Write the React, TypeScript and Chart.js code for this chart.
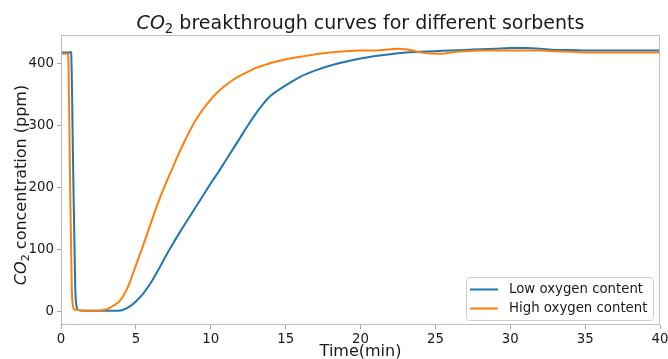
import React, { useEffect, useRef } from 'react';
import { Chart, registerables } from 'chart.js';

Chart.register(...registerables);

// ---- data ----
const lowTime = [0, 0.3, 0.6, 0.64, 0.68, 0.8, 0.95, 1.05, 1.15, 1.5, 2, 2.5, 3, 3.5, 3.8, 4.2, 4.6, 5.0, 5.5, 6.0, 6.5, 7.0, 7.5, 8.0, 8.5, 9.0, 9.5, 10, 10.5, 11, 11.5, 12, 12.5, 13, 13.5, 14, 14.5, 15, 15.5, 16, 17, 18, 19, 20, 21, 22, 23, 24, 25, 26, 27, 28, 29, 30, 31, 32, 33, 34, 35, 36, 37, 38, 39, 40];
const lowValues = [418, 418, 418, 419, 416, 250, 40, 8, 3, 2, 2, 2, 2, 2, 2, 4, 9, 17, 30, 47, 68, 90, 111, 131, 150, 169, 188, 207, 225, 244, 263, 282, 301, 319, 335, 348, 357, 365, 372, 379, 389, 397, 403, 408, 412, 415, 418, 419, 420, 421, 422, 423, 424, 425, 425, 424, 422, 422, 421, 421, 421, 421, 421, 421];

const highTime = [0, 0.3, 0.45, 0.5, 0.6, 0.72, 0.8, 0.9, 1.2, 1.5, 2, 2.5, 2.8, 3.1, 3.5, 4.0, 4.5, 5.0, 5.5, 6.0, 6.5, 7.0, 7.5, 8.0, 8.5, 9.0, 9.5, 10, 10.5, 11, 11.5, 12, 12.5, 13, 13.5, 14, 14.5, 15, 16, 17, 18, 19, 20, 21, 22, 22.5, 23, 23.5, 24, 25, 25.5, 26, 27, 28, 29, 30, 31, 32, 33, 34, 35, 36, 37, 38, 39, 40];
const highValues = [416, 416, 416, 400, 220, 40, 10, 4, 3, 2, 2, 2, 3, 5, 10, 20, 42, 75, 108, 143, 177, 207, 235, 262, 287, 309, 327, 342, 355, 365, 374, 381, 387, 393, 397, 401, 404, 407, 411, 415, 418, 420, 421, 421, 423, 424, 423, 421, 418, 416, 416, 418, 420, 421, 421, 421, 421, 421, 420, 419, 418, 418, 418, 418, 418, 418];

const seriesLabels = ['Low oxygen content', 'High oxygen content'];
const seriesColors = ['#1f77b4', '#ff7f0e'];
const xTicks = [0, 5, 10, 15, 20, 25, 30, 35, 40];
const yTicks = [0, 100, 200, 300, 400];
const xTitle = 'Time(min)';
const titleParts = [
  { text: 'CO', italic: true },
  { text: '2', sub: true },
  { text: ' breakthrough curves for different sorbents' },
];
const yTitleParts = [
  { text: 'CO', italic: true },
  { text: '2', sub: true },
  { text: ' concentration (ppm)' },
];

const FONT = '"DejaVu Sans", sans-serif';
const TEXT_COLOR = '#1a1a1a';
const SMALL = 13.3;

type Part = { text: string; italic?: boolean; sub?: boolean };

function drawRich(ctx: CanvasRenderingContext2D, parts: Part[], cx: number, baseline: number, size: number) {
  const fontFor = (p: Part) => {
    const s = p.sub ? size * 0.7 : size;
    return `${p.italic ? 'italic ' : ''}${s}px ${FONT}`;
  };
  let total = 0;
  const widths = parts.map((p) => {
    ctx.font = fontFor(p);
    const w = ctx.measureText(p.text).width;
    total += w;
    return w;
  });
  let x = cx - total / 2;
  ctx.textAlign = 'left';
  ctx.textBaseline = 'alphabetic';
  ctx.fillStyle = TEXT_COLOR;
  parts.forEach((p, i) => {
    ctx.font = fontFor(p);
    ctx.fillText(p.text, x, baseline + (p.sub ? size * 0.2 : 0));
    x += widths[i];
  });
}

const decorPlugin = {
  id: 'decor',
  afterDatasetsDraw(chart: any) {
    const { ctx, chartArea } = chart;
    ctx.save();
    // frame
    ctx.strokeStyle = '#bdbdbd';
    ctx.lineWidth = 1;
    ctx.strokeRect(chartArea.left + 0.5, chartArea.top + 0.5, chartArea.right - chartArea.left - 1, chartArea.bottom - chartArea.top - 1);

    // legend
    const w = 187;
    const h = 43;
    const lx = chartArea.right - 7 - w;
    const ly = chartArea.bottom - 5 - h;
    ctx.beginPath();
    ctx.roundRect(lx + 0.5, ly + 0.5, w, h, 3);
    ctx.fillStyle = 'rgba(255,255,255,0.8)';
    ctx.fill();
    ctx.strokeStyle = '#d0d0d0';
    ctx.stroke();
    chart.data.datasets.forEach((ds: any, i: number) => {
      const y = ly + 12.5 + i * 19;
      ctx.beginPath();
      ctx.moveTo(lx + 4, y);
      ctx.lineTo(lx + 32, y);
      ctx.strokeStyle = ds.borderColor;
      ctx.lineWidth = 2;
      ctx.stroke();
      ctx.font = `${SMALL}px ${FONT}`;
      ctx.fillStyle = TEXT_COLOR;
      ctx.textAlign = 'left';
      ctx.textBaseline = 'middle';
      ctx.fillText(ds.label, lx + 43, y);
    });
    ctx.restore();
  },
  afterDraw(chart: any) {
    const { ctx, chartArea } = chart;
    ctx.save();
    drawRich(ctx, titleParts, (chartArea.left + chartArea.right) / 2, 29, 19);
    ctx.translate(26, 185);
    ctx.rotate(-Math.PI / 2);
    drawRich(ctx, yTitleParts, 0, 0, 16);
    ctx.restore();
  },
};

export default function App() {
  const ref = useRef<HTMLCanvasElement | null>(null);
  useEffect(() => {
    if (!ref.current) return;
    const chart = new Chart(ref.current, {
      type: 'line',
      data: {
        datasets: [
          {
            label: seriesLabels[0],
            data: lowTime.map((t, i) => ({ x: t, y: lowValues[i] })),
            borderColor: seriesColors[0],
            backgroundColor: seriesColors[0],
            borderWidth: 2,
            pointRadius: 0,
            cubicInterpolationMode: 'monotone',
            order: 1,
          },
          {
            label: seriesLabels[1],
            data: highTime.map((t, i) => ({ x: t, y: highValues[i] })),
            borderColor: seriesColors[1],
            backgroundColor: seriesColors[1],
            borderWidth: 2,
            pointRadius: 0,
            cubicInterpolationMode: 'monotone',
            order: 0,
          },
        ],
      },
      options: {
        responsive: false,
        animation: false,
        layout: { padding: { top: 35, right: 8, left: 0, bottom: 0 } },
        plugins: {
          legend: { display: false },
          title: { display: false },
          tooltip: { enabled: false },
        },
        scales: {
          x: {
            type: 'linear',
            min: 0,
            max: 40,
            afterBuildTicks: (s: any) => {
              s.ticks = xTicks.map((v) => ({ value: v }));
            },
            afterFit: (s: any) => {
              s.height = 34;
              s.paddingLeft = 0;
              s.paddingRight = 0;
            },
            border: { display: false },
            grid: { display: true, drawOnChartArea: false, drawTicks: true, tickLength: 4, color: '#aaaaaa' },
            ticks: { autoSkip: false, maxRotation: 0, padding: 3, color: TEXT_COLOR, font: { family: FONT, size: SMALL } },
            title: {
              display: true,
              text: xTitle,
              color: TEXT_COLOR,
              font: { family: FONT, size: 16 },
              padding: { top: 0, bottom: -2 },
            },
          },
          y: {
            type: 'linear',
            min: -21,
            max: 446,
            afterBuildTicks: (s: any) => {
              s.ticks = yTicks.map((v) => ({ value: v }));
            },
            afterFit: (s: any) => {
              s.width = 61;
            },
            border: { display: false },
            grid: { display: true, drawOnChartArea: false, drawTicks: true, tickLength: 4, color: '#aaaaaa' },
            ticks: { padding: 3, color: TEXT_COLOR, font: { family: FONT, size: SMALL } },
          },
        },
      },
      plugins: [decorPlugin],
    } as any);
    return () => chart.destroy();
  }, []);
  return (
    <div style={{ position: 'absolute', left: 0, top: 0, width: 668, height: 359, background: '#fff' }}>
      <canvas ref={ref} width={668} height={359} style={{ display: 'block' }} />
    </div>
  );
}
